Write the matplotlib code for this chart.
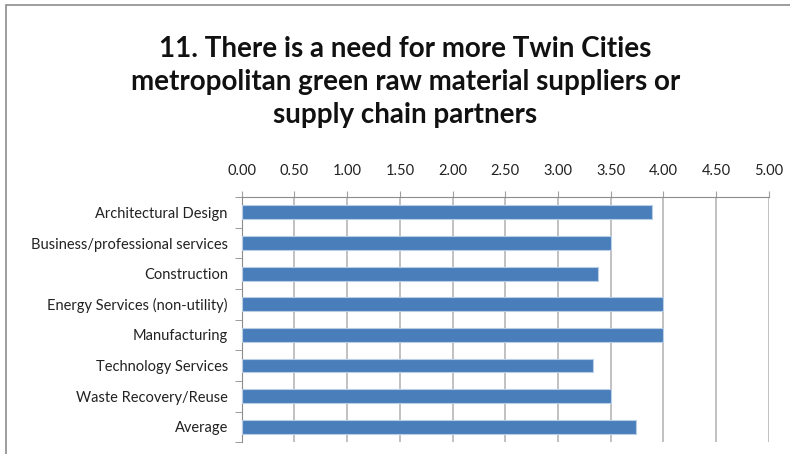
import numpy as np
import matplotlib.pyplot as plt
from matplotlib.patches import Rectangle

categories = ['Architectural Design', 'Business/professional services', 'Construction',
              'Energy Services (non-utility)', 'Manufacturing', 'Technology Services',
              'Waste Recovery/Reuse', 'Average']
values = [3.89, 3.50, 3.38, 4.00, 4.00, 3.33, 3.50, 3.74]
ticks = [0.0, 0.5, 1.0, 1.5, 2.0, 2.5, 3.0, 3.5, 4.0, 4.5, 5.0]

plt.rcParams['font.family'] = ['Lato', 'DejaVu Sans']

fig = plt.figure(figsize=(7.9, 4.54), dpi=100)
ax = fig.add_axes([0.306, 0.026, 0.667, 0.54])

# outer chart frame (cut off at right/bottom)
fig.patches.append(Rectangle((0.007, -0.1), 1.2, 1.09, transform=fig.transFigure,
                             fill=False, edgecolor='#8c8c8c', linewidth=1.2))

y = np.arange(len(categories))
ax.barh(y, values, height=0.45, color='#4a7ebb', edgecolor='#b9cde5', linewidth=0.8, zorder=3)

ax.set_xlim(0, 5)
ax.set_ylim(len(categories) - 0.5, -0.5)
ax.set_xticks(ticks)
ax.set_xticklabels(['%.2f' % t for t in ticks], fontsize=10.5, color='#222222')
ax.xaxis.tick_top()
ax.tick_params(axis='x', direction='out', length=4, color='#a0a0a0', pad=10)
ax.grid(axis='x', color='#b0b0b0', linewidth=1.1, zorder=0)

ax.set_yticks(y)
ax.set_yticklabels(categories, fontsize=10.5, color='#222222')
ax.set_yticks(np.arange(len(categories) + 1) - 0.5, minor=True)
ax.tick_params(axis='y', which='major', length=0, pad=10)
ax.tick_params(axis='y', which='minor', direction='out', length=5, color='#8c8c8c')

for s in ['right', 'bottom']:
    ax.spines[s].set_visible(False)
ax.spines['top'].set_color('#8c8c8c')
ax.spines['left'].set_color('#8c8c8c')

fig.text(0.513, 0.819, '11. There is a need for more Twin Cities\n'
         'metropolitan green raw material suppliers or\nsupply chain partners',
         ha='center', va='center', fontsize=20, fontweight='bold', linespacing=1.33,
         color='#111111')

fig.savefig('out.png', dpi=100)
